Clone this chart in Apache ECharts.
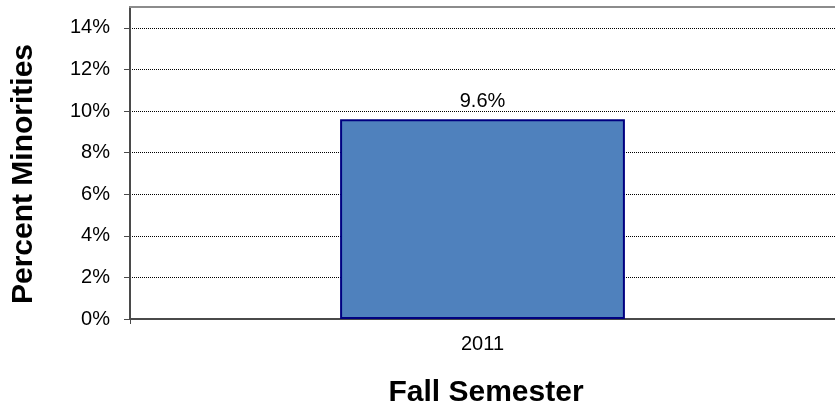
<!DOCTYPE html>
<html>
<head>
<meta charset="utf-8">
<script src="https://cdn.jsdelivr.net/npm/echarts@6/dist/echarts.min.js"></script>
<style>
  html, body { margin: 0; padding: 0; background: #fff; }
  #chart { width: 835px; height: 410px; }
</style>
</head>
<body>
<div id="chart"></div>
<script>
// chart data
const categories = ['2011']
const percentMinorities = [9.6]
const yTicks = [0, 2, 4, 6, 8, 10, 12, 14]
const xTitle = 'Fall Semester'
const yTitle = 'Percent Minorities'

const font = '"Liberation Sans", Arial, sans-serif'
const chart = echarts.init(document.getElementById('chart'))

const option = {
  animation: false,
  grid: { left: 130, right: 0, top: 7, bottom: 91 },
  xAxis: [{
    type: 'category',
    data: categories,
    axisLine: { lineStyle: { color: '#4a4a4a', width: 2 } },
    axisTick: { show: true, length: 5, lineStyle: { color: '#4a4a4a' } },
    axisLabel: { fontFamily: font, fontSize: 20, color: '#000', margin: 15 }
  }, {
    type: 'category',
    position: 'top',
    data: categories,
    axisLine: { lineStyle: { color: '#8c8c8c', width: 2 } },
    axisTick: { show: false },
    axisLabel: { show: false }
  }],
  yAxis: {
    type: 'value',
    min: 0,
    max: 15,
    interval: 2,
    axisLine: { show: true, lineStyle: { color: '#4a4a4a', width: 2 } },
    axisTick: { show: true, length: 6, lineStyle: { color: '#4a4a4a' } },
    axisLabel: {
      fontFamily: font, fontSize: 20, color: '#000', margin: 20,
      showMaxLabel: false,
      formatter: v => (yTicks.includes(v) ? v + '%' : '')
    },
    splitLine: { show: true, lineStyle: { color: '#000', type: [1, 1], width: 1 } }
  },
  graphic: [{
    type: 'text',
    x: 486,
    y: 393,
    style: {
      text: xTitle, fontFamily: font, fontSize: 30, fontWeight: 'bold',
      fill: '#000', textAlign: 'center', textVerticalAlign: 'middle'
    }
  }, {
    type: 'text',
    x: 24,
    y: 174,
    rotation: Math.PI / 2,
    style: {
      text: yTitle, fontFamily: font, fontSize: 30, fontWeight: 'bold',
      fill: '#000', textAlign: 'center', textVerticalAlign: 'middle'
    }
  }],
  series: [{
    type: 'bar',
    data: percentMinorities,
    barWidth: '40.4%',
    itemStyle: { color: '#4F81BD', borderColor: '#000080', borderWidth: 2 },
    label: {
      show: true,
      position: 'top',
      distance: 8,
      formatter: p => p.value.toFixed(1) + '%',
      fontFamily: font, fontSize: 20, color: '#000'
    }
  }]
}

chart.setOption(option)
</script>
</body>
</html>
